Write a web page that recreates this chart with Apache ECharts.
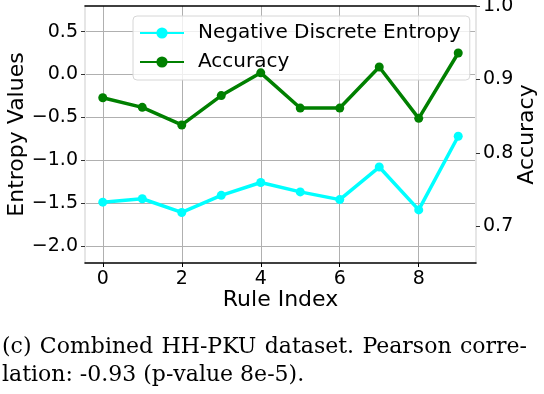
<!DOCTYPE html>
<html lang="en">

<head>
  <meta charset="UTF-8">
  <title>Entropy vs Accuracy</title>
  <script src="https://cdn.jsdelivr.net/npm/echarts@6/dist/echarts.min.js"></script>
  <style>
    * {
      padding: 0;
      margin: 0;
    }

    #box {
      width: 544px;
      height: 394px;
      background: #fff;
    }
  </style>
</head>

<body>
  <div id="box"></div>
  <script>
    // data
    var ruleIndex = [0, 1, 2, 3, 4, 5, 6, 7, 8, 9]
    var entropy = [-1.49, -1.45, -1.61, -1.41, -1.26, -1.37, -1.46, -1.08, -1.58, -0.72]
    var accuracy = [0.875, 0.862, 0.838, 0.878, 0.909, 0.861, 0.861, 0.917, 0.847, 0.936]
    var xTicks = [0, 2, 4, 6, 8]
    var leftTicks = [-2.0, -1.5, -1.0, -0.5, 0.0, 0.5]
    var rightTicks = [0.7, 0.8, 0.9, 1.0]
    var captionLines = ['(c) Combined HH-PKU dataset. Pearson corre-', 'lation: -0.93 (p-value 8e-5).']

    var entropyData = []
    var accData = []
    for (let i = 0; i < ruleIndex.length; i++) {
      entropyData.push([ruleIndex[i], entropy[i]])
      accData.push([ruleIndex[i], accuracy[i]])
    }

    function fmt(v) {
      return v.toFixed(1).replace('-', '\u2212')
    }

    // caption: first line justified to full width, like the latex output
    var capFont = '22px "DejaVu Serif"'
    var cv = document.createElement('canvas').getContext('2d')
    cv.font = capFont
    var graphics = []
    function addLine(text, y, justify) {
      var words = text.split(' ')
      var x = 2
      var widths = words.map(function (w) { return cv.measureText(w).width })
      var total = widths.reduce(function (a, b) { return a + b }, 0)
      var space = cv.measureText(' ').width
      if (justify) space = (525 - total) / (words.length - 1)
      for (let i = 0; i < words.length; i++) {
        graphics.push({
          type: 'text', left: x, top: y,
          style: { text: words[i], font: capFont, fill: '#000' }
        })
        x += widths[i] + space
      }
    }
    addLine(captionLines[0], 336, true)
    addLine(captionLines[1], 364, false)

    var mCharts = echarts.init(document.getElementById('box'))
    var option = {
      animation: false,
      textStyle: { fontFamily: 'DejaVu Sans' },
      grid: { left: 85, right: 68, top: 6, bottom: 131, outerBoundsMode: 'none' },
      legend: {
        orient: 'vertical',
        left: 133,
        top: 16,
        z: 1,
        padding: [7, 9, 8, 6],
        itemGap: 9,
        itemWidth: 44,
        itemHeight: 14,
        backgroundColor: 'rgba(255,255,255,0.8)',
        borderColor: '#d6d6d6',
        borderWidth: 1,
        borderRadius: 4,
        textStyle: { fontSize: 20, color: '#000', fontFamily: 'DejaVu Sans', padding: [0, 0, 0, 9] },
        data: ['Negative Discrete Entropy', 'Accuracy']
      },
      xAxis: [{
        type: 'value',
        min: -0.45,
        max: 9.45,
        name: 'Rule Index',
        nameLocation: 'middle',
        nameGap: 26,
        nameMoveOverlap: false,
        nameTextStyle: { fontSize: 22, color: '#000', fontFamily: 'DejaVu Sans' },
        axisLine: { onZero: false, lineStyle: { color: '#000', width: 1.5 } },
        axisTick: { customValues: xTicks, length: 4, lineStyle: { color: '#000' } },
        axisLabel: { customValues: xTicks, fontSize: 19, color: '#000', fontFamily: 'DejaVu Sans', margin: 7 },
        splitLine: { show: true, lineStyle: { color: '#b0b0b0', width: 1 } }
      }, {
        type: 'value',
        position: 'top',
        min: -0.45,
        max: 9.45,
        axisLine: { onZero: false, lineStyle: { color: '#000', width: 1.5 } },
        axisTick: { show: false },
        axisLabel: { show: false },
        splitLine: { show: false }
      }],
      yAxis: [{
        type: 'value',
        min: -2.2,
        max: 0.8,
        name: 'Entropy Values',
        nameLocation: 'middle',
        nameRotate: 90,
        nameGap: 57,
        nameMoveOverlap: false,
        nameTextStyle: { fontSize: 22, color: '#000', fontFamily: 'DejaVu Sans' },
        axisLine: { show: true, onZero: false, lineStyle: { color: '#e6e6e6', width: 2 } },
        axisTick: { show: true, customValues: leftTicks, length: 4, lineStyle: { color: '#333' } },
        axisLabel: { customValues: leftTicks, formatter: fmt, fontSize: 19, color: '#000', fontFamily: 'DejaVu Sans', margin: 7 },
        splitLine: { show: true, lineStyle: { color: '#b0b0b0', width: 1 } }
      }, {
        type: 'value',
        position: 'right',
        min: 0.65,
        max: 1.0,
        name: 'Accuracy',
        nameLocation: 'middle',
        nameRotate: 90,
        nameGap: 40,
        nameMoveOverlap: false,
        nameTextStyle: { fontSize: 22, color: '#000', fontFamily: 'DejaVu Sans' },
        axisLine: { show: true, onZero: false, lineStyle: { color: '#e6e6e6', width: 2 } },
        axisTick: { show: true, customValues: rightTicks, length: 4, lineStyle: { color: '#333' } },
        axisLabel: { customValues: rightTicks, formatter: fmt, fontSize: 19, color: '#000', fontFamily: 'DejaVu Sans', margin: 7 },
        splitLine: { show: false }
      }],
      series: [{
        name: 'Negative Discrete Entropy',
        type: 'line',
        yAxisIndex: 0,
        data: entropyData,
        symbol: 'circle',
        symbolSize: 9,
        color: '#00ffff',
        lineStyle: { width: 3.5 },
        z: 3
      }, {
        name: 'Accuracy',
        type: 'line',
        yAxisIndex: 1,
        data: accData,
        symbol: 'circle',
        symbolSize: 9,
        color: '#008000',
        lineStyle: { width: 3.5 },
        z: 3
      }],
      graphic: graphics
    }
    mCharts.setOption(option)
  </script>
</body>

</html>
